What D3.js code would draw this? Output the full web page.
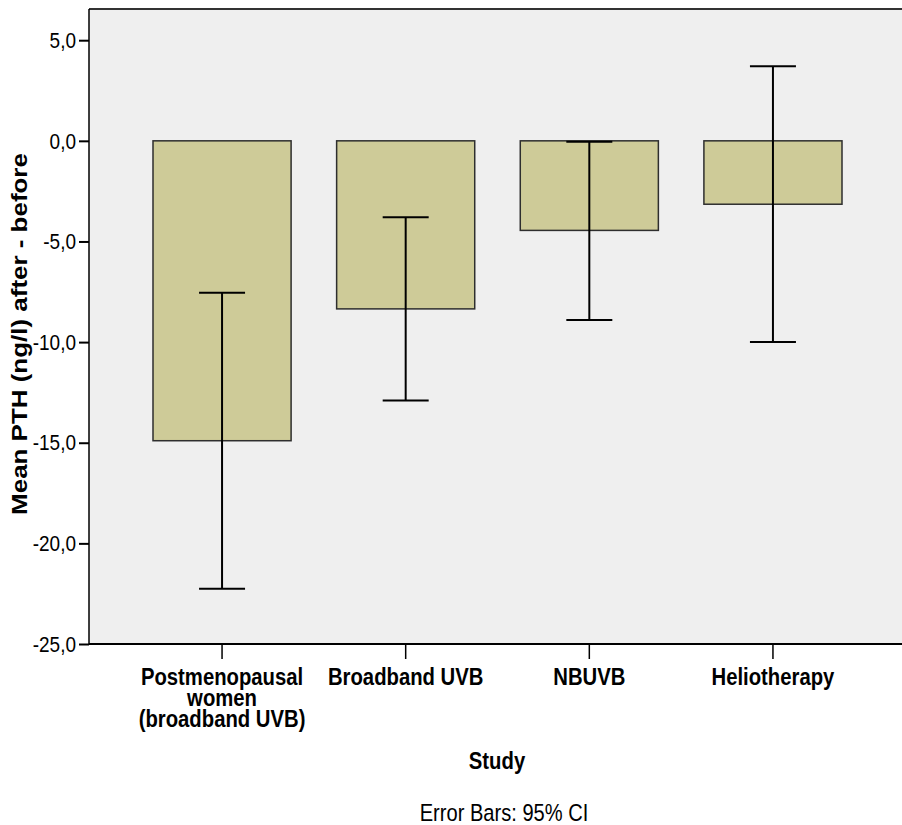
<!DOCTYPE html>
<html>
<head>
<meta charset="utf-8">
<script src="https://cdn.jsdelivr.net/npm/d3@7"></script>
<style>
  body { margin: 0; background: #fff; }
  svg text { font-family: "Liberation Sans", Arial, sans-serif; fill: #000; }
</style>
</head>
<body>
<div id="chart"></div>
<script>
// Data
var studies = ["Postmenopausal women (broadband UVB)", "Broadband UVB", "NBUVB", "Heliotherapy"];
var studyLines = [["Postmenopausal", "women", "(broadband UVB)"], ["Broadband UVB"], ["NBUVB"], ["Heliotherapy"]];
var meanChange = [-14.9, -8.35, -4.45, -3.15];
var ciLower = [-22.25, -12.9, -8.9, -10.0];
var ciUpper = [-7.55, -3.8, -0.05, 3.7];
var yTicks = [5, 0, -5, -10, -15, -20, -25];

var W = 902, H = 825;
var plot = { left: 89, right: 902, top: 9, bottom: 644 };
var stretch = "scale(1,1.15)";

var svg = d3.select("#chart").append("svg")
    .attr("width", W)
    .attr("height", H);

// Scales
var y = d3.scaleLinear().domain([-25, 6.55]).range([plot.bottom, plot.top]);
var x = d3.scaleBand().domain(studies).range([153, 842]).paddingInner(0.248).paddingOuter(0);

// plot background
svg.append("rect")
    .attr("x", plot.left)
    .attr("y", plot.top)
    .attr("width", plot.right - plot.left)
    .attr("height", plot.bottom - plot.top)
    .style("fill", "#efefef");

// top frame line
svg.append("line")
    .attr("x1", plot.left).attr("x2", plot.right)
    .attr("y1", plot.top).attr("y2", plot.top)
    .style("stroke", "#333").style("stroke-width", 2);

var rows = studies.map(function (s, i) {
    return { study: s, mean: meanChange[i], lo: ciLower[i], hi: ciUpper[i] };
});

// bars
svg.selectAll(".bar")
    .data(rows)
    .enter().append("rect")
    .attr("class", "bar")
    .attr("x", function (d) { return x(d.study); })
    .attr("width", x.bandwidth())
    .attr("y", function (d) { return y(Math.max(0, d.mean)); })
    .attr("height", function (d) { return Math.abs(y(d.mean) - y(0)); })
    .style("fill", "#cecb98")
    .style("stroke", "#2e2e2e")
    .style("stroke-width", 1.5);

// error bars
var capW = 46;
var eb = svg.selectAll(".err")
    .data(rows)
    .enter().append("g")
    .attr("class", "err")
    .style("stroke", "#000")
    .style("stroke-width", 2);

eb.append("line")
    .attr("x1", function (d) { return x(d.study) + x.bandwidth() / 2; })
    .attr("x2", function (d) { return x(d.study) + x.bandwidth() / 2; })
    .attr("y1", function (d) { return y(d.hi); })
    .attr("y2", function (d) { return y(d.lo); });

eb.append("line")
    .attr("x1", function (d) { return x(d.study) + x.bandwidth() / 2 - capW / 2; })
    .attr("x2", function (d) { return x(d.study) + x.bandwidth() / 2 + capW / 2; })
    .attr("y1", function (d) { return y(d.hi); })
    .attr("y2", function (d) { return y(d.hi); });

eb.append("line")
    .attr("x1", function (d) { return x(d.study) + x.bandwidth() / 2 - capW / 2; })
    .attr("x2", function (d) { return x(d.study) + x.bandwidth() / 2 + capW / 2; })
    .attr("y1", function (d) { return y(d.lo); })
    .attr("y2", function (d) { return y(d.lo); });

// Y axis
var yAxis = d3.axisLeft(y)
    .tickValues(yTicks)
    .tickSizeInner(10)
    .tickSizeOuter(0)
    .tickPadding(3)
    .tickFormat(function (d) { return d3.format(".1f")(d).replace(".", ",").replace("\u2212", "-"); });

var gy = svg.append("g")
    .attr("transform", "translate(" + plot.left + ",0)")
    .call(yAxis);
gy.select(".domain").remove();
gy.selectAll(".tick line").style("stroke", "#000").style("stroke-width", 2);
gy.selectAll(".tick text")
    .style("font-size", "19px")
    .attr("fill", "#000")
    .attr("dy", "0.33em")
    .attr("transform", stretch);

svg.append("line")
    .attr("x1", plot.left).attr("x2", plot.left)
    .attr("y1", plot.top).attr("y2", plot.bottom)
    .style("stroke", "#000").style("stroke-width", 1.5);

// X axis
var gx = svg.append("g")
    .attr("transform", "translate(0," + plot.bottom + ")")
    .call(d3.axisBottom(x).tickSizeInner(15).tickSizeOuter(0).tickFormat(""));
gx.select(".domain").remove();
gx.selectAll(".tick line").style("stroke", "#000").style("stroke-width", 1.5);

svg.append("line")
    .attr("x1", plot.left).attr("x2", plot.right)
    .attr("y1", plot.bottom).attr("y2", plot.bottom)
    .style("stroke", "#000").style("stroke-width", 2);

// category labels (multi-line)
var labels = svg.selectAll(".catlabel")
    .data(studies)
    .enter().append("text")
    .attr("class", "catlabel")
    .attr("text-anchor", "middle")
    .style("font-size", "20.3px")
    .style("font-weight", "bold")
    .attr("transform", function (d) {
        return "translate(" + (x(d) + x.bandwidth() / 2) + ",685) " + stretch;
    });

labels.each(function (d, i) {
    var t = d3.select(this);
    studyLines[i].forEach(function (line, j) {
        t.append("tspan")
            .attr("x", 0)
            .attr("y", j * 18.3)
            .text(line);
    });
});

// X axis title
svg.append("text")
    .attr("text-anchor", "middle")
    .attr("transform", "translate(497,769) " + stretch)
    .style("font-size", "20.3px")
    .style("font-weight", "bold")
    .text("Study");

// Y axis title
svg.append("text")
    .attr("text-anchor", "middle")
    .attr("transform", "translate(27,334) rotate(-90) scale(1.18,1)")
    .style("font-size", "22px")
    .style("font-weight", "bold")
    .text("Mean PTH (ng/l) after - before");

// footnote
svg.append("text")
    .attr("text-anchor", "middle")
    .attr("transform", "translate(504,821) " + stretch)
    .style("font-size", "20.1px")
    .text("Error Bars: 95% CI");
</script>
</body>
</html>
